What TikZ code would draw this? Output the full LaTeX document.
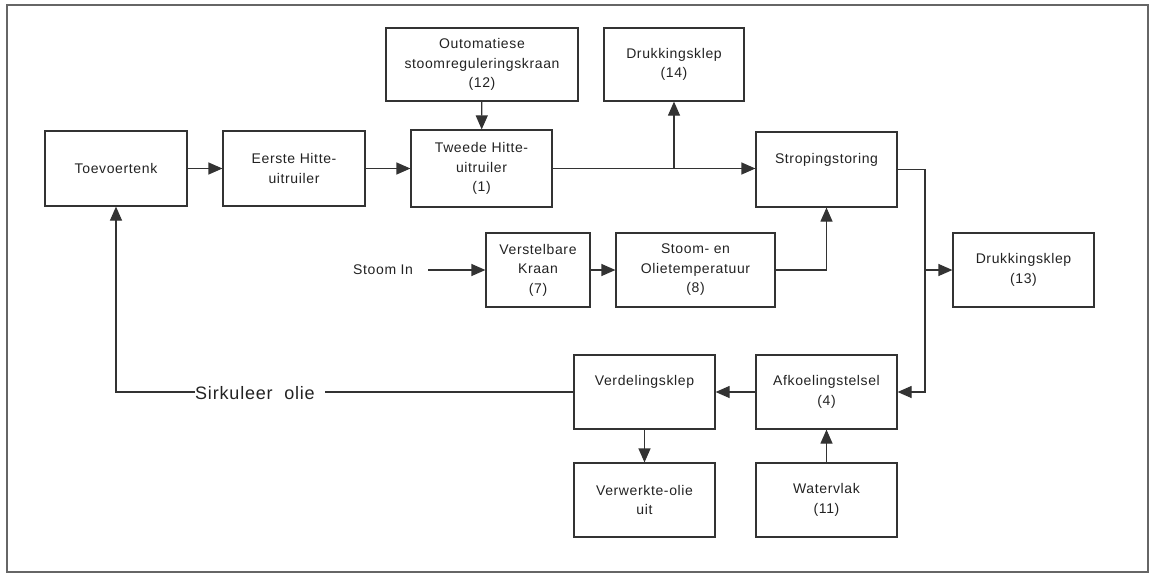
\documentclass[tikz,border=0pt]{standalone}
\usepackage{fontspec}
\setmainfont{Liberation Sans}[LetterSpace=4.5]
\usetikzlibrary{arrows.meta}
\definecolor{lc}{HTML}{333333}
\definecolor{tc}{HTML}{222222}
\definecolor{fc}{HTML}{666666}
\begin{document}
\begin{tikzpicture}[x=1pt,y=-1pt,
  box/.style={draw=lc, line width=1.2pt, inner sep=0pt, align=center, text=tc,
    font=\fontsize{14}{19.5}\selectfont},
  conn/.style={draw=lc, line width=1.2pt},
  arr/.style={conn, -{Triangle[length=14pt,width=12pt]}},
  lbl/.style={inner sep=0pt, text=tc}]
\useasboundingbox (0,0) rectangle (1152,574);
\draw[fc, line width=1.3pt] (7,5) rectangle (1148,572);

\node[box, minimum width=142, minimum height=75] (toev) at (116,168.5) {Toevoertenk};
\node[box, minimum width=142, minimum height=75] (eerste) at (294,168.5) {Eerste Hitte-\\uitruiler};
\node[box, minimum width=192, minimum height=73] (outom) at (482,64.5) {Outomatiese\\stoomreguleringskraan\\(12)};
\node[box, minimum width=141, minimum height=77] (tweede) at (481.5,168.5) {Tweede Hitte-\\uitruiler\\(1)};
\node[box, minimum width=140, minimum height=73] (druk14) at (674,64.5) {Drukkingsklep\\(14)};
\node[box, minimum width=141, minimum height=75] (strop) at (826.5,169.5) {Stropingstoring\\\phantom{(4)}};
\node[box, minimum width=104, minimum height=74] (verst) at (538,270) {Verstelbare\\Kraan\\(7)};
\node[box, minimum width=159, minimum height=74] (stoomolie) at (695.5,270) {Stoom- en\\Olietemperatuur\\(8)};
\node[box, minimum width=141, minimum height=74] (druk13) at (1023.5,270) {Drukkingsklep\\(13)};
\node[box, minimum width=141, minimum height=74] (verd) at (644.5,392) {Verdelingsklep\\\phantom{(4)}};
\node[box, minimum width=141, minimum height=74] (afk) at (826.5,392) {Afkoelingstelsel\\(4)};
\node[box, minimum width=141, minimum height=74] (verw) at (644.5,500) {Verwerkte-olie\\uit};
\node[box, minimum width=141, minimum height=74] (water) at (826.5,500) {Watervlak\\(11)};

\node[lbl, font=\fontsize{14}{17}\selectfont, anchor=west] (stoomin) at (353,270) {Stoom In};
\node[lbl, font=\fontsize{18}{21}\selectfont, anchor=west] (sirk) at (195,393) {Sirkuleer\ \ olie};

\coordinate (j14) at (674,168.5);
\coordinate (rv) at (925,169.5);
\coordinate (rb) at (925,270);
\coordinate (lc1) at (116,392);
\coordinate (sgap) at (325,392);

\draw[arr] (toev) -- (eerste);
\draw[arr] (eerste) -- (tweede);
\draw[arr] (outom) -- (tweede);
\draw[arr] (tweede.east) -- (tweede.east -| strop.west);
\draw[arr] (j14) -- (druk14.south);
\draw[arr] (stoomin.east) ++(15,0) -- (verst.west);
\draw[arr] (verst) -- (stoomolie);
\draw[arr] (stoomolie.east) -| (strop.south);
\draw[arr] (strop.east |- rv) -- (rv) |- (afk.east);
\draw[arr] (rb) -- (druk13.west);
\draw[arr] (afk) -- (verd);
\draw[arr] (verd) -- (verw);
\draw[arr] (water) -- (afk);
\draw[conn] (verd.west) -- (sgap);
\draw[arr] (sirk.west |- lc1) -- (lc1) -- (toev.south);
\end{tikzpicture}
\end{document}
